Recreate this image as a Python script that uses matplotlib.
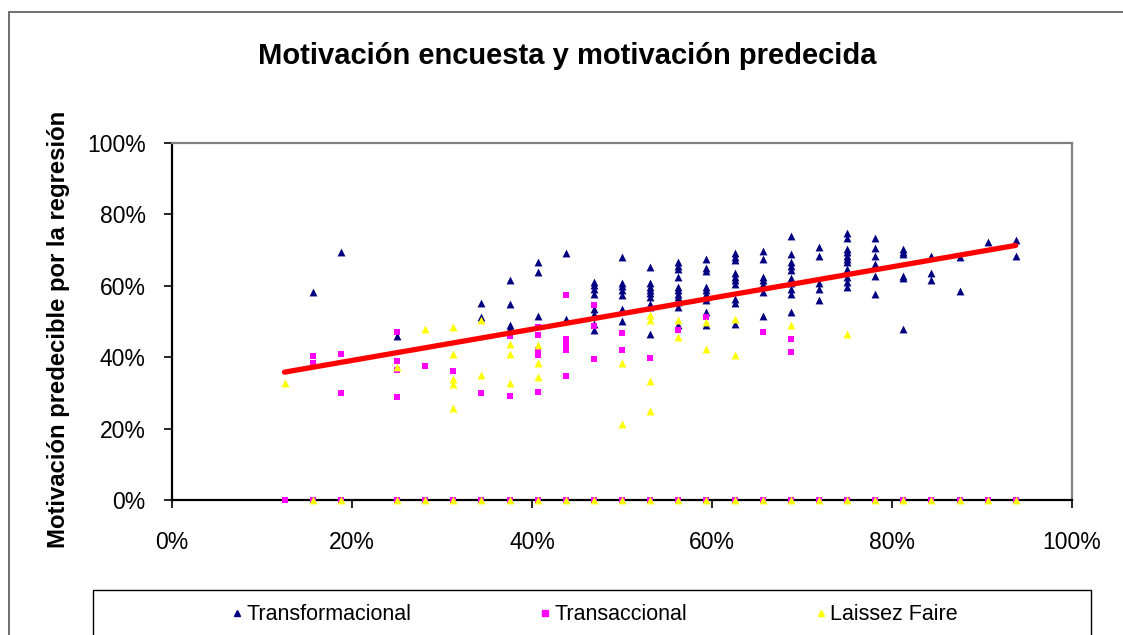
import matplotlib
matplotlib.use("Agg")
import matplotlib.pyplot as plt
from matplotlib.patches import Rectangle
from matplotlib.lines import Line2D
from matplotlib.ticker import PercentFormatter

# ---------------- data (percent) ----------------
x_levels = [12.5, 15.625, 18.75, 25, 28.125, 31.25, 34.375, 37.5, 40.625, 43.75,
            46.875, 50, 53.125, 56.25, 59.375, 62.5, 65.625, 68.75, 71.875, 75,
            78.125, 81.25, 84.375, 87.5, 90.625, 93.75]

transformacional_y = [
    [], [58.4], [69.6], [45.8], [], [], [55.3, 51.4], [61.6, 54.8, 48.9, 48.1],
    [66.8, 63.9, 51.6], [69.3, 50.7],
    [61.0, 60.1, 59.1, 57.7, 53.5, 52.1, 49.4, 47.5],
    [68.2, 60.8, 59.9, 58.9, 57.5, 53.5, 50.1],
    [65.4, 60.7, 59.8, 58.9, 57.9, 57.0, 54.9, 54.0, 46.6],
    [66.6, 65.6, 64.7, 62.4, 59.6, 58.7, 57.7, 56.8, 55.4, 54.0, 48.9],
    [67.5, 65.0, 64.2, 59.8, 58.9, 57.7, 56.8, 55.9, 52.8, 48.9],
    [69.1, 68.2, 67.2, 63.5, 62.6, 61.6, 60.5, 56.3, 55.1, 49.2],
    [69.8, 67.5, 62.4, 61.5, 60.5, 58.2, 51.5],
    [73.9, 68.9, 66.8, 65.6, 64.4, 62.2, 60.7, 59.2, 57.7, 52.8],
    [70.9, 68.4, 60.7, 59.1, 56.1],
    [74.7, 73.5, 70.3, 69.4, 68.4, 67.5, 66.6, 64.7, 62.4, 61.0, 59.6],
    [73.4, 70.6, 68.4, 66.1, 62.8, 57.7],
    [70.3, 69.4, 68.9, 62.8, 62.2, 47.8],
    [68.3, 63.5, 61.6], [68.0, 58.5], [72.4], [72.9, 68.3],
]

transaccional_y = [
    [0], [40.3, 38.5, 0], [41.0, 29.9, 0], [47.0, 38.9, 36.3, 28.9, 0], [37.4, 0],
    [36.0, 0], [29.9, 0], [45.9, 29.1, 0], [48.4, 46.1, 41.9, 40.5, 30.2, 0],
    [57.4, 45.2, 43.8, 42.4, 41.9, 34.6, 0], [54.7, 48.6, 39.4, 0], [46.8, 42.1, 0],
    [39.9, 0], [47.5, 0], [51.2, 0], [0], [47.1, 0], [45.0, 41.4, 0], [0], [0],
    [0], [0], [0], [0], [0], [0],
]

laissez_faire_y = [
    [32.9], [0], [0], [37.3, 0], [47.8, 0], [48.5, 40.8, 34.0, 32.4, 25.9, 0],
    [50.5, 35.1, 0], [43.8, 41.0, 32.9, 0], [43.3, 38.5, 34.4, 0], [0], [0],
    [38.5, 21.3, 0], [51.9, 50.3, 33.4, 24.9, 0], [50.3, 45.6, 0], [49.8, 42.4, 0],
    [50.7, 40.7, 0], [0], [48.9, 0], [0], [46.4, 0], [0], [0], [0], [0], [0], [0],
]

# regression line (fitted parameters, percent)
reg_intercept = 30.35
reg_slope = 0.437

series_names = ["Transformacional", "Transaccional", "Laissez Faire"]
x_ticks = [0, 20, 40, 60, 80, 100]
y_ticks = [0, 20, 40, 60, 80, 100]


def flatten(levels, groups):
    xs, ys = [], []
    for xv, g in zip(levels, groups):
        for yv in g:
            xs.append(xv)
            ys.append(yv)
    return xs, ys


W, H = 1123, 635
fig = plt.figure(figsize=(W / 100, H / 100), dpi=100)
plt.rcParams['font.family'] = ['Liberation Sans', 'DejaVu Sans']

ax = fig.add_axes([172 / W, 1 - 500 / H, 900 / W, 357 / H])

styles = [
    dict(marker="^", color="#000080", s=32),
    dict(marker="s", color="#FF00FF", s=24),
    dict(marker="^", color="#FFFF00", s=32),
]
handles = []
for name, groups, st in zip(series_names,
                            [transformacional_y, transaccional_y, laissez_faire_y],
                            styles):
    xs, ys = flatten(x_levels, groups)
    ax.scatter(xs, ys, marker=st["marker"], c=st["color"], s=st["s"],
               linewidths=0, zorder=3, clip_on=False)
    handles.append(Line2D([], [], linestyle="none", marker=st["marker"],
                          color=st["color"], markersize=4.5, label=name))

# trendline over the data range
xmin, xmax = min(x_levels), max(x_levels)
ax.plot([xmin, xmax], [reg_intercept + reg_slope * xmin, reg_intercept + reg_slope * xmax],
        color="#FF0000", lw=3.8, solid_capstyle="round", zorder=5)

ax.set_xlim(0, 100)
ax.set_ylim(0, 100)
ax.set_xticks(x_ticks)
ax.set_yticks(y_ticks)
ax.xaxis.set_major_formatter(PercentFormatter(decimals=0))
ax.yaxis.set_major_formatter(PercentFormatter(decimals=0))
ax.tick_params(axis="x", direction="out", length=6, width=1.2, pad=16,
               labelsize=16.5, color="black")
ax.tick_params(axis="y", direction="out", length=6, width=1.2, pad=13,
               labelsize=16.5, color="black")

for side in ["left", "bottom"]:
    ax.spines[side].set_color("black")
    ax.spines[side].set_linewidth(1.6)
for side in ["top", "right"]:
    ax.spines[side].set_color("#808080")
    ax.spines[side].set_linewidth(1.6)

# titles
fig.text(567 / W, 1 - 56 / H, "Motivación encuesta y motivación predecida",
         ha="center", va="center", fontsize=21, fontweight="bold")
fig.text(59 / W, 1 - 329 / H, "Motivación predecible por la regresión",
         ha="center", va="center", rotation=90, fontsize=17.2, fontweight="bold")

# outer chart border (extends past the image edges)
fig.add_artist(Line2D([9 / W, 9 / W], [1 - 12 / H, -0.1], transform=fig.transFigure,
                      color="#707070", lw=1.4))
fig.add_artist(Line2D([9 / W, 1.1], [1 - 12 / H, 1 - 12 / H], transform=fig.transFigure,
                      color="#707070", lw=1.4))

# legend box
fig.add_artist(Rectangle((93 / W, -0.1), (1091 - 93) / W, (635 - 590) / H + 0.1,
                         transform=fig.transFigure, fill=False, edgecolor="black", lw=1.0))
fig.legend(handles=handles, loc="center", bbox_to_anchor=(594 / W, 1 - 615 / H),
           ncol=3, frameon=False, fontsize=15.5, handlelength=0.6, handletextpad=0.15,
           columnspacing=5.9, borderaxespad=0)

fig.savefig("out.png", dpi=100)
